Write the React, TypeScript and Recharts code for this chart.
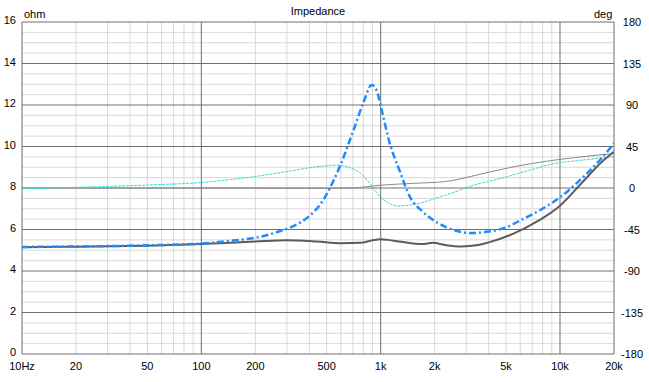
import React from 'react';
import { LineChart, Line, XAxis, YAxis, ReferenceLine } from 'recharts';

// impedance magnitude (ohm), blue dash-dot
const blueFreq = [10, 20, 50, 100, 150, 200, 265, 355, 400, 450, 500, 545, 600, 650, 700, 800, 890, 950, 1010, 1120, 1280, 1450, 1720, 2100, 2600, 3200, 4000, 5000, 6200, 7800, 10000, 13000, 16700, 20000];
const blueOhm = [5.16, 5.18, 5.24, 5.32, 5.47, 5.6, 5.88, 6.33, 6.65, 7.1, 7.7, 8.35, 9.15, 9.95, 10.7, 12.1, 12.96, 12.7, 11.8, 10.2, 8.8, 7.6, 6.85, 6.3, 5.95, 5.83, 5.9, 6.1, 6.5, 6.95, 7.55, 8.4, 9.35, 10.15];

// impedance magnitude (ohm), dark grey
const greyFreq = [10, 20, 50, 100, 200, 300, 440, 600, 770, 900, 1000, 1100, 1300, 1700, 1950, 2300, 2800, 3500, 4000, 5500, 7500, 10000, 13400, 17300, 20000];
const greyOhm = [5.15, 5.17, 5.22, 5.3, 5.42, 5.48, 5.42, 5.34, 5.36, 5.48, 5.53, 5.5, 5.41, 5.3, 5.36, 5.25, 5.18, 5.25, 5.38, 5.8, 6.4, 7.15, 8.3, 9.3, 9.75];

// phase (deg), thin grey
const phaseGreyFreq = [10, 100, 500, 700, 800, 1000, 1500, 2300, 3600, 5500, 8400, 10000, 15000, 20000];
const phaseGreyDeg = [0, 0, -0.3, 0, 1, 3, 5, 7, 15, 23, 29, 31, 35, 37.5];

// phase (deg), cyan dotted
const phaseCyanFreq = [10, 20, 50, 100, 200, 300, 440, 570, 650, 770, 870, 1000, 1100, 1230, 1520, 2150, 2760, 3300, 4500, 6800, 9300, 13000, 20000];
const phaseCyanDeg = [-0.7, 0.7, 3.2, 6, 12.5, 17.8, 23, 24.8, 23, 16, 5, -10, -16, -19.5, -18, -9.5, -2.5, 3, 9.5, 19.5, 26.5, 30, 34];

const freqTicks = [10, 20, 50, 100, 200, 500, 1000, 2000, 5000, 10000, 20000];
const freqLabels = ['10Hz', '20', '50', '100', '200', '500', '1k', '2k', '5k', '10k', '20k'];
const ohmTicks = [0, 2, 4, 6, 8, 10, 12, 14, 16];
const degTicks = [-180, -135, -90, -45, 0, 45, 90, 135, 180];
const majorFreq = [100, 1000, 10000];
const minorFreq = [20, 30, 40, 50, 60, 70, 80, 90, 200, 300, 400, 500, 600, 700, 800, 900, 2000, 3000, 4000, 5000, 6000, 7000, 8000, 9000];
const minorOhm = [0.5, 1, 1.5, 2.5, 3, 3.5, 4.5, 5, 5.5, 6.5, 7, 7.5, 8.5, 9, 9.5, 10.5, 11, 11.5, 12.5, 13, 13.5, 14.5, 15, 15.5];
const majorOhm = [2, 4, 6, 8, 10, 12, 14];

const toPoints = (f: number[], v: number[]) => f.map((x, i) => ({ f: x, v: v[i] }));

const FONT = '"Liberation Sans", Arial, sans-serif';
const MAJOR = '#6e6e6e';
const MINOR = '#d9d9d9';

const XTick = (props: any) => {
  const { x, y, payload } = props;
  const idx = freqTicks.indexOf(payload.value);
  return (
    <text x={x} y={y + 14} textAnchor="middle" fontSize={11} fontFamily={FONT} fill="#000">
      {freqLabels[idx]}
    </text>
  );
};

const LeftTick = (props: any) => {
  const { x, y, payload } = props;
  return (
    <text x={x - 4} y={y + 2} textAnchor="end" fontSize={11} fontFamily={FONT} fill="#000">
      {payload.value}
    </text>
  );
};

const RightTick = (props: any) => {
  const { x, y, payload } = props;
  return (
    <text x={x + 16} y={y + 4} textAnchor="middle" fontSize={11} fontFamily={FONT} fill="#000">
      {payload.value}
    </text>
  );
};

export default function App() {
  return (
    <div style={{ position: 'relative', width: 649, height: 382, background: '#fff', fontFamily: FONT }}>
      <style>{'body{margin:0}'}</style>
      <div style={{ position: 'absolute', left: 0, width: 636, top: 5, textAlign: 'center', fontSize: 11 }}>Impedance</div>
      <div style={{ position: 'absolute', left: 24, top: 8, fontSize: 11 }}>ohm</div>
      <div style={{ position: 'absolute', left: 594, top: 8, fontSize: 11 }}>deg</div>
      <LineChart width={649} height={382} margin={{ top: 22, right: 0, bottom: 0, left: 0 }}>
        <XAxis
          dataKey="f"
          type="number"
          scale="log"
          domain={[10, 20000]}
          ticks={freqTicks}
          allowDataOverflow
          tick={<XTick />}
          tickLine={false}
          tickSize={0}
          height={28}
          stroke={MAJOR}
        />
        <YAxis
          yAxisId="ohm"
          domain={[0, 16]}
          ticks={ohmTicks}
          width={22}
          tick={<LeftTick />}
          tickLine={false}
          tickSize={0}
          stroke={MAJOR}
        />
        <YAxis
          yAxisId="deg"
          orientation="right"
          domain={[-180, 180]}
          ticks={degTicks}
          width={35}
          tick={<RightTick />}
          tickLine={false}
          tickSize={0}
          stroke={MAJOR}
        />
        {minorFreq.map((f) => (
          <ReferenceLine key={'mf' + f} x={f} yAxisId="ohm" stroke={MINOR} />
        ))}
        {minorOhm.map((v) => (
          <ReferenceLine key={'mo' + v} y={v} yAxisId="ohm" stroke={MINOR} />
        ))}
        {majorFreq.map((f) => (
          <ReferenceLine key={'Mf' + f} x={f} yAxisId="ohm" stroke={MAJOR} />
        ))}
        {majorOhm.map((v) => (
          <ReferenceLine key={'Mo' + v} y={v} yAxisId="ohm" stroke={MAJOR} />
        ))}
        <ReferenceLine y={16} yAxisId="ohm" stroke={MAJOR} />
        <Line
          data={toPoints(phaseGreyFreq, phaseGreyDeg)}
          dataKey="v"
          yAxisId="deg"
          type="monotone"
          stroke="#8a8a8a"
          strokeWidth={1}
          dot={false}
          isAnimationActive={false}
        />
        <Line
          data={toPoints(phaseCyanFreq, phaseCyanDeg)}
          dataKey="v"
          yAxisId="deg"
          type="monotone"
          stroke="#40d8c8"
          strokeWidth={1}
          strokeDasharray="3 1"
          dot={false}
          isAnimationActive={false}
        />
        <Line
          data={toPoints(greyFreq, greyOhm)}
          dataKey="v"
          yAxisId="ohm"
          type="monotone"
          stroke="#5c5c5c"
          strokeWidth={2}
          dot={false}
          isAnimationActive={false}
        />
        <Line
          data={toPoints(blueFreq, blueOhm)}
          dataKey="v"
          yAxisId="ohm"
          type="monotone"
          stroke="#1e8cff"
          strokeWidth={2.5}
          strokeDasharray="7 3 2 3"
          dot={false}
          isAnimationActive={false}
        />
      </LineChart>
    </div>
  );
}
